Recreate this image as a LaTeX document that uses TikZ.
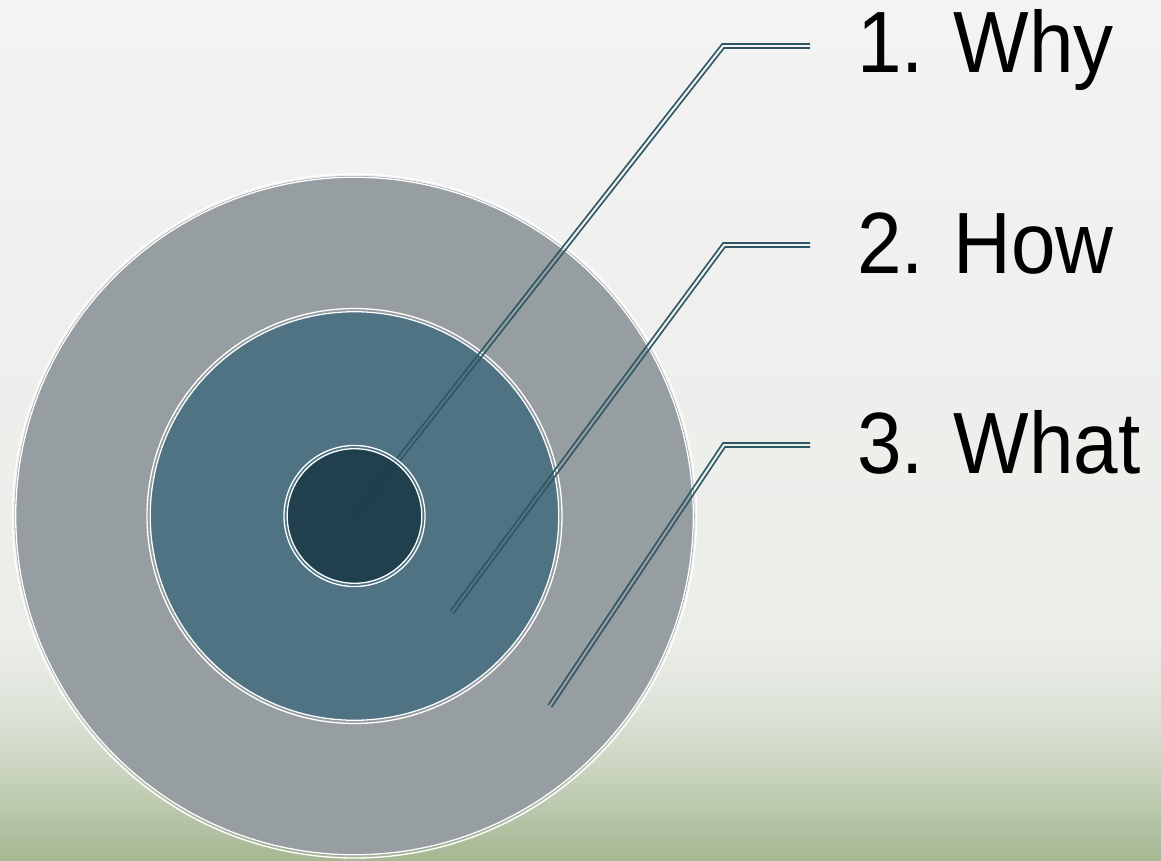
\documentclass[tikz,border=0pt]{standalone}
\usepackage{fontspec}
\setmainfont{Liberation Sans}
\usetikzlibrary{calc}
\definecolor{bgtop}{HTML}{F3F3F3}
\definecolor{bgmid}{HTML}{EBEDE8}
\definecolor{bgl1}{HTML}{E0E5DC}
\definecolor{bgl2}{HTML}{CED7C4}
\definecolor{bgl3}{HTML}{B5C4A6}
\definecolor{bgbot}{HTML}{A6B793}
\definecolor{outerc}{HTML}{979EA2}
\definecolor{middlec}{HTML}{4F7383}
\definecolor{innerc}{HTML}{1B3947}
\definecolor{linec}{HTML}{2E5766}
\pgfdeclareverticalshading{bgshade}{100bp}{%
 color(0bp)=(bgbot); color(25bp)=(bgbot); color(27.4bp)=(bgl3);
 color(30.9bp)=(bgl2); color(34.4bp)=(bgl1); color(37.8bp)=(bgmid);
 color(75bp)=(bgtop); color(100bp)=(bgtop)}
\def\gap{2pt}
\tikzset{
  callout/.style={draw=linec, line width=1.6pt, line join=miter},
  ringline/.style={draw=white, line width=1.3pt},
  label/.style={anchor=base west, inner sep=0pt, xscale=0.92, font=\fontsize{87}{100}\selectfont, text=black}
}
\newcommand\calloutpair[3]{%
  \path ($(#1)!\gap!90:(#2)$) coordinate (#1oa)
        ($(#2)!\gap!-90:(#1)$) coordinate (#1ob)
        ($(#2)+(0pt,\gap)$) coordinate (#1oc)
        ($(#3)+(0pt,\gap)$) coordinate (#1od)
        ($(#1)!\gap!-90:(#2)$) coordinate (#1ia)
        ($(#2)!\gap!90:(#1)$) coordinate (#1ib)
        ($(#2)+(0pt,-\gap)$) coordinate (#1ic)
        ($(#3)+(0pt,-\gap)$) coordinate (#1id);
  \draw[callout] (#1oa) -- (intersection of #1oa--#1ob and #1oc--#1od) -- (#1od);
  \draw[callout] (#1ia) -- (intersection of #1ia--#1ib and #1ic--#1id) -- (#1id);
}
\begin{document}
\begin{tikzpicture}[x=1pt,y=-1pt]
\useasboundingbox (0,0) rectangle (1161,861);
\fill[shading=bgshade] (0,0) rectangle (1161,861);
% centre
\coordinate (c) at (354.5,516);
% outer ring
\fill[outerc] (c) circle[radius=340];
\draw[ringline] (c) circle[radius=338.8];
\draw[ringline] (c) circle[radius=342];
% middle ring
\fill[middlec] (c) circle[radius=205];
\draw[ringline] (c) circle[radius=204.3];
\draw[ringline] (c) circle[radius=207.5];
% callout 1 (passes under the inner disc)
\coordinate (sA) at (354,516);
\coordinate (bA) at (723,46);
\coordinate (eA) at (810,46);
\calloutpair{sA}{bA}{eA}
% inner disc
\fill[innerc, fill opacity=0.88] (c) circle[radius=67.5];
\draw[ringline] (c) circle[radius=67.3];
\draw[ringline] (c) circle[radius=70.5];
% callouts 2 and 3
\coordinate (sB) at (452,612);
\coordinate (bB) at (724,245);
\coordinate (eB) at (810,245);
\calloutpair{sB}{bB}{eB}
\coordinate (sC) at (550,706);
\coordinate (bC) at (724,445);
\coordinate (eC) at (810,445);
\calloutpair{sC}{bC}{eC}
% labels
\node[label] (why) at (857,73) {1. Why};
\node[label] (how) at (857,273) {2. How};
\node[label] (what) at (857,473) {3. What};
\end{tikzpicture}
\end{document}
